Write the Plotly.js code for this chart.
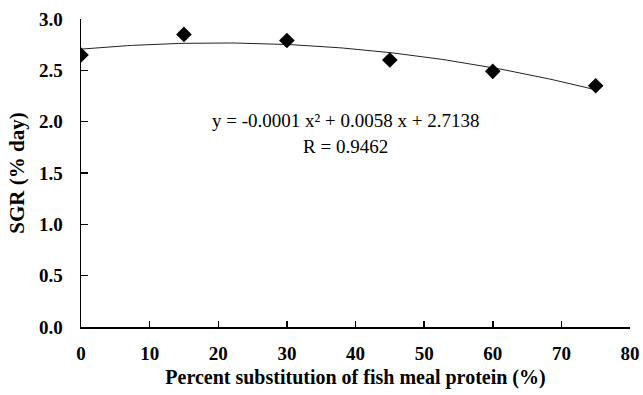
<!DOCTYPE html>
<html>
<head>
<meta charset="utf-8">
<script src="https://cdn.plot.ly/plotly-3.0.1.min.js"></script>
<style>html,body{margin:0;padding:0;background:#fff}#chart{width:643px;height:395px}</style>
</head>
<body>
<div id="chart"></div>
<script>
// Data
const substitution = [0, 15, 30, 45, 60, 75];
const sgr = [2.65, 2.85, 2.79, 2.60, 2.49, 2.35];
const xTicks = [0, 10, 20, 30, 40, 50, 60, 70, 80];
const yTicks = [0, 0.5, 1.0, 1.5, 2.0, 2.5, 3.0];
const yTickText = ['0.0', '0.5', '1.0', '1.5', '2.0', '2.5', '3.0'];
const equationText = 'y = -0.0001 x² + 0.0058 x + 2.7138';
const rText = 'R = 0.9462';

// Least-squares quadratic trendline derived from the data (as a spreadsheet trendline does)
function quadFit(xs, ys) {
  let S = [0,0,0,0,0], T = [0,0,0];
  for (let i = 0; i < xs.length; i++) {
    let p = 1;
    for (let k = 0; k < 5; k++) { S[k] += p; if (k < 3) T[k] += p * ys[i]; p *= xs[i]; }
  }
  const M = [[S[0],S[1],S[2],T[0]],[S[1],S[2],S[3],T[1]],[S[2],S[3],S[4],T[2]]];
  for (let c = 0; c < 3; c++) {
    for (let r = c + 1; r < 3; r++) {
      const f = M[r][c] / M[c][c];
      for (let k = c; k < 4; k++) M[r][k] -= f * M[c][k];
    }
  }
  const sol = [0,0,0];
  for (let r = 2; r >= 0; r--) {
    let s = M[r][3];
    for (let k = r + 1; k < 3; k++) s -= M[r][k] * sol[k];
    sol[r] = s / M[r][r];
  }
  return sol; // c0, c1, c2
}
const coef = quadFit(substitution, sgr);
const trendX = [], trendY = [];
const xMin = substitution[0], xMax = substitution[substitution.length - 1];
for (let i = 0; i <= 100; i++) {
  const x = xMin + (xMax - xMin) * i / 100;
  trendX.push(x);
  trendY.push(coef[0] + coef[1] * x + coef[2] * x * x);
}

const font = "'Liberation Serif', 'Times New Roman', 'DejaVu Serif', serif";

const traces = [
  {x: trendX, y: trendY, mode: 'lines', line: {color: '#222', width: 1}, hoverinfo: 'skip'},
  {x: substitution, y: sgr, mode: 'markers', marker: {symbol: 'diamond', size: 12, color: '#000'}}
];

const layout = {
  width: 643, height: 395,
  margin: {l: 81, r: 13, t: 19, b: 68},
  paper_bgcolor: '#fff', plot_bgcolor: '#fff',
  showlegend: false,
  font: {family: font, color: '#000'},
  xaxis: {
    range: [0, 80], tickvals: xTicks, ticks: 'inside', ticklen: 6, tickwidth: 1.5, tickcolor: '#000',
    showline: true, linecolor: '#000', linewidth: 1.5, showgrid: false, zeroline: false,
    tickfont: {family: font, size: 19, color: '#000', weight: 'bold'}, ticklabelstandoff: 9,
    title: {text: 'Percent substitution of fish meal protein (%)', font: {family: font, size: 20, weight: 'bold', color: '#000'}, standoff: 6}
  },
  yaxis: {
    range: [0, 3], tickvals: yTicks, ticktext: yTickText, ticks: 'inside', ticklen: 7, tickwidth: 1.5, tickcolor: '#000',
    showline: true, linecolor: '#000', linewidth: 1.5, showgrid: false, zeroline: false,
    tickfont: {family: font, size: 19, color: '#000', weight: 'bold'}, ticklabelstandoff: 13,
    title: {text: 'SGR (% day)', font: {family: font, size: 21, weight: 'bold', color: '#000'}, standoff: 8}
  },
  annotations: [
    {xref: 'paper', yref: 'paper', x: 0.482, y: 0.672, text: equationText, showarrow: false,
     font: {family: font, size: 19, color: '#000'}, xanchor: 'center', yanchor: 'middle'},
    {xref: 'paper', yref: 'paper', x: 0.482, y: 0.586, text: rText, showarrow: false,
     font: {family: font, size: 19, color: '#000'}, xanchor: 'center', yanchor: 'middle'}
  ]
};

Plotly.newPlot('chart', traces, layout, {staticPlot: true, displayModeBar: false});
</script>
</body>
</html>
